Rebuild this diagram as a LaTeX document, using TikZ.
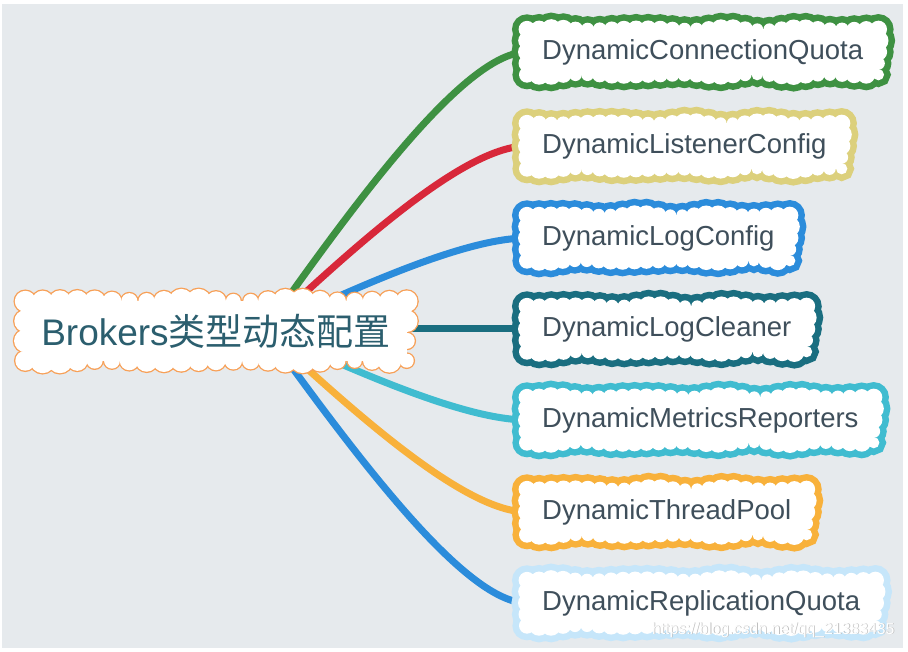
\documentclass[tikz,border=0pt]{standalone}
\usepackage{fontspec}
\setmainfont{Liberation Sans}
\newfontfamily\cjk{Noto Sans CJK SC}
\definecolor{bg}{HTML}{E6EAED}
\definecolor{cgreen}{HTML}{3E9142}
\definecolor{ckhaki}{HTML}{DCD07C}
\definecolor{cblue}{HTML}{2B8CDB}
\definecolor{cteal}{HTML}{1A6E80}
\definecolor{ccyan}{HTML}{40BCD0}
\definecolor{corange}{HTML}{F8B13B}
\definecolor{clight}{HTML}{C6E6FA}
\definecolor{cred}{HTML}{D8283A}
\definecolor{croot}{HTML}{F7A057}
\definecolor{ctext}{HTML}{3F4F5B}
\definecolor{croottext}{HTML}{2B5E6E}
\pgfdeclarelayer{back}
\pgfdeclarelayer{curves}
\pgfdeclarelayer{bstroke}
\pgfdeclarelayer{bfill}
\pgfsetlayers{back,curves,bstroke,bfill,main}
\tikzset{
  child/.style={anchor=west, minimum height=45pt, inner xsep=15pt,
    text=ctext, font=\fontsize{27.5}{33}\selectfont},
  rootbox/.style={minimum width=381pt, minimum height=59pt,
    text=croottext, font=\fontsize{37}{42}\selectfont},
  link/.style={draw=#1, line width=7pt}
}
% one puff: x, y, index, options, base radius
\newcommand{\cloudpt}[5]{%
  \pgfmathsetmacro{\rr}{#5*(1+0.2*sin(#3*53)+0.1*sin(#3*71))}%
  \path[#4] (#1,#2) circle[radius=\rr pt];}
% ring of puffs round the box \xa,\ya,\xb,\yb: options, base radius
\newcommand{\cloudring}[2]{%
  \foreach \i in {0,...,\nxm}{%
    \pgfmathsetmacro{\px}{\xa+\i*\dx}\cloudpt{\px}{\ya}{\i}{#1}{#2}%
    \pgfmathsetmacro{\px}{\xb-\i*\dx}\pgfmathtruncatemacro{\k}{\i+50}\cloudpt{\px}{\yb}{\k}{#1}{#2}}%
  \foreach \i in {0,...,\nym}{%
    \pgfmathtruncatemacro{\k}{\i+100}%
    \pgfmathsetmacro{\py}{\ya+\i*\dy}\cloudpt{\xb}{\py}{\k}{#1}{#2}%
    \pgfmathtruncatemacro{\k}{\i+150}%
    \pgfmathsetmacro{\py}{\yb-\i*\dy}\cloudpt{\xa}{\py}{\k}{#1}{#2}}}
% cloud border round a node: node, colour, stroke width, base radius, spacing
\newcommand{\cloudify}[5]{%
  \pgfpointanchor{#1}{south west}\pgfgetlastxy{\cxa}{\cya}%
  \pgfpointanchor{#1}{north east}\pgfgetlastxy{\cxb}{\cyb}%
  \pgfmathsetmacro{\xa}{\cxa}\pgfmathsetmacro{\ya}{\cya}%
  \pgfmathsetmacro{\xb}{\cxb}\pgfmathsetmacro{\yb}{\cyb}%
  \pgfmathtruncatemacro{\nx}{max(1,round((\xb-\xa)/#5))}%
  \pgfmathtruncatemacro{\ny}{max(1,round((\yb-\ya)/#5))}%
  \pgfmathsetmacro{\dx}{(\xb-\xa)/\nx}%
  \pgfmathsetmacro{\dy}{(\yb-\ya)/\ny}%
  \pgfmathtruncatemacro{\nxm}{\nx-1}%
  \pgfmathtruncatemacro{\nym}{\ny-1}%
  \begin{pgfonlayer}{bstroke}\cloudring{draw=#2, line width=#3}{#4}\end{pgfonlayer}%
  \begin{pgfonlayer}{bfill}\fill[white] (\xa,\ya) rectangle (\xb,\yb);\cloudring{fill=white}{#4}\end{pgfonlayer}%
}
\begin{document}
\begin{tikzpicture}[x=1pt,y=1pt]
\useasboundingbox (0,0) rectangle (908,652);
\begin{pgfonlayer}{back}
\fill[white] (0,0) rectangle (908,652);
\fill[bg] (2,4) rectangle (903,648);
\end{pgfonlayer}

\node[child] (cq) at (527,600) {DynamicConnectionQuota};
\node[child] (lc) at (527,506) {DynamicListenerConfig};
\node[child] (lg) at (527,414) {DynamicLogConfig};
\node[child] (cl) at (527,323) {DynamicLogCleaner};
\node[child] (mr) at (527,232) {DynamicMetricsReporters};
\node[child] (tp) at (527,140) {DynamicThreadPool};
\node[child] (rq) at (527,49)  {DynamicReplicationQuota};
\node[rootbox] (root) at (216,321) {Brokers{\cjk 类型动态配置}};

\cloudify{cq}{cgreen}{13pt}{8}{12}
\cloudify{lc}{ckhaki}{13pt}{8}{12}
\cloudify{lg}{cblue}{13pt}{8}{12}
\cloudify{cl}{cteal}{13pt}{8}{12}
\cloudify{mr}{ccyan}{13pt}{8}{12}
\cloudify{tp}{corange}{13pt}{8}{12}
\cloudify{rq}{clight}{13pt}{8}{12}
\cloudify{root}{croot}{2.6pt}{10}{17}

\coordinate (o) at (265,322);
\begin{pgfonlayer}{curves}
\draw[link=cgreen]  (o) .. controls +(98,139) and +(-60,0) .. (cq.west);
\draw[link=cred]    (o) .. controls +(98,92) and +(-60,0) .. (lc.west);
\draw[link=cblue]   (o) .. controls +(98,46) and +(-60,0) .. (lg.west);
\draw[link=ccyan]   (o) .. controls +(98,-45) and +(-60,0) .. (mr.west);
\draw[link=corange] (o) .. controls +(98,-91) and +(-60,0) .. (tp.west);
\draw[link=cblue]   (o) .. controls +(98,-136) and +(-60,0) .. (rq.west);
\draw[link=cteal]   (root.east |- cl.west) -- (cl.west);
\end{pgfonlayer}

\node[text=black!25, font=\fontsize{15.8}{18}\selectfont, anchor=east] at (898.8,21.2) {https://blog.csdn.net/qq\_21383435};
\node[text=white, font=\fontsize{15.8}{18}\selectfont, anchor=east] (wm) at (898,22) {https://blog.csdn.net/qq\_21383435};
\end{tikzpicture}
\end{document}
